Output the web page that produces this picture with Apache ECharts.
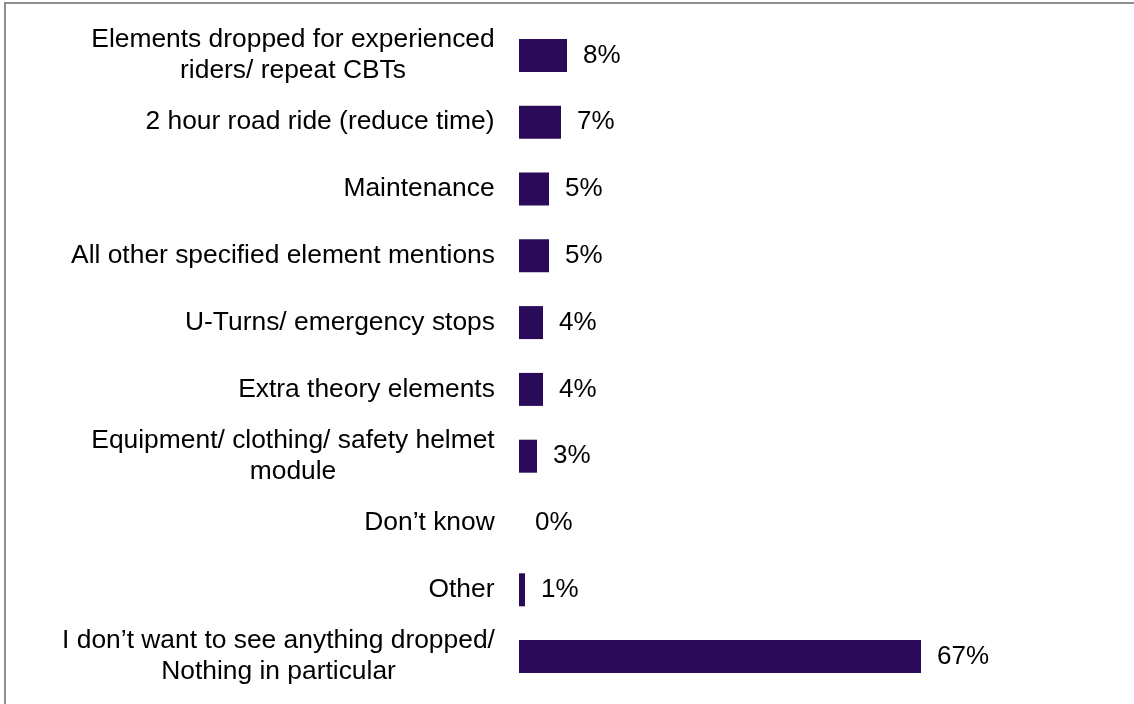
<!DOCTYPE html>
<html>
<head>
<meta charset="utf-8">
<script src="https://cdn.jsdelivr.net/npm/echarts@6/dist/echarts.min.js"></script>
<style>
  html, body { margin: 0; padding: 0; background: #fff; }
  #frame { position: absolute; left: 4px; top: 2px; width: 1130px; height: 702px;
           border-top: 2px solid #8e8e8e; border-left: 2px solid #8e8e8e; box-sizing: border-box; }
  #main { position: absolute; left: 0; top: 0; width: 1134px; height: 704px; }
</style>
</head>
<body>
<div id="frame"></div>
<div id="main"></div>
<script>
var categories = [
    'Elements dropped for experienced\nriders/ repeat CBTs',
    '2 hour road ride (reduce time)',
    'Maintenance',
    'All other specified element mentions',
    'U-Turns/ emergency stops',
    'Extra theory elements',
    'Equipment/ clothing/ safety helmet\nmodule',
    'Don’t know',
    'Other',
    'I don’t want to see anything dropped/\nNothing in particular'
];
var values = [8, 7, 5, 5, 4, 4, 3, 0, 1, 67];

var FONT = '"Liberation Sans", Arial, sans-serif';
var SIZE = 26.4;

// centre the lines of multi-line labels inside their block
var ctx = document.createElement('canvas').getContext('2d');
ctx.font = SIZE + 'px ' + FONT;
var rich = {};
categories.forEach(function (c, i) {
    var w = 0;
    c.split('\n').forEach(function (l) { w = Math.max(w, ctx.measureText(l).width); });
    rich['w' + i] = { width: Math.ceil(w), align: 'center', fontSize: SIZE, fontFamily: FONT, color: '#000', lineHeight: 31 };
});

var chart = echarts.init(document.getElementById('main'));

var option = {
    animation: false,
    grid: { left: 519, top: 22, width: 600, height: 668 },
    xAxis: { type: 'value', min: 0, max: 100, show: false },
    yAxis: {
        type: 'category',
        inverse: true,
        data: categories,
        axisLine: { show: false },
        axisTick: { show: false },
        axisLabel: {
            margin: 24,
            formatter: function (v, idx) {
                return v.split('\n').map(function (l) { return '{w' + idx + '|' + l + '}'; }).join('\n');
            },
            rich: rich
        }
    },
    series: [{
        type: 'bar',
        data: values,
        barWidth: 33,
        itemStyle: { color: '#290B59' },
        label: {
            show: true,
            position: 'right',
            distance: 16,
            formatter: '{c}%',
            fontSize: 26,
            fontFamily: FONT,
            color: '#000'
        }
    }]
};

chart.setOption(option);
</script>
</body>
</html>
